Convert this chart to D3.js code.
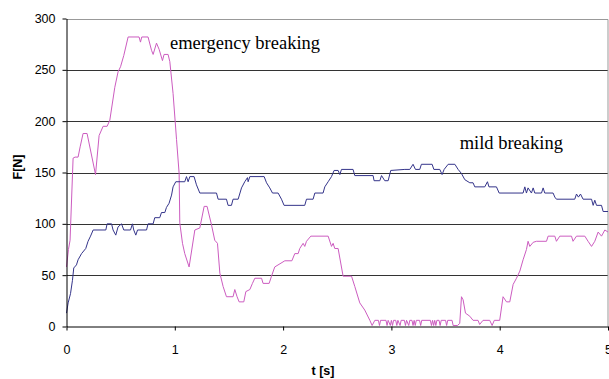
<!DOCTYPE html>
<html>
<head>
<meta charset="utf-8">
<script src="https://cdn.jsdelivr.net/npm/d3@7"></script>
<style>
  body { margin: 0; background: #fff; }
  svg { display: block; }
</style>
</head>
<body>
<svg></svg>
<script>
let xTicks = [0, 1, 2, 3, 4, 5]
let yTicks = [0, 50, 100, 150, 200, 250, 300]
let xLabel = 't [s]'
let yLabel = 'F[N]'

// emergency breaking, [t, F]
let emergency = [
  [0.00, 58], [0.018, 75], [0.033, 84], [0.061, 164], [0.079, 165], [0.107, 165],
  [0.126, 175], [0.153, 188], [0.190, 188], [0.268, 148], [0.301, 186], [0.338, 195],
  [0.375, 195], [0.400, 201], [0.446, 233], [0.476, 248], [0.499, 253], [0.529, 264],
  [0.569, 282], [0.670, 282], [0.683, 277], [0.695, 282], [0.753, 282], [0.785, 269],
  [0.800, 265], [0.831, 276], [0.855, 270], [0.886, 259], [0.901, 265], [0.938, 265],
  [0.954, 258], [0.984, 227], [1.016, 182], [1.040, 149], [1.046, 101], [1.071, 81],
  [1.092, 71], [1.132, 58], [1.185, 94], [1.231, 96], [1.271, 117], [1.298, 117],
  [1.339, 99], [1.369, 84], [1.394, 81], [1.416, 52], [1.446, 39], [1.477, 29],
  [1.538, 29], [1.554, 36], [1.575, 29], [1.594, 24], [1.637, 24], [1.656, 34],
  [1.693, 36], [1.717, 42], [1.739, 47], [1.801, 47], [1.815, 42], [1.871, 42],
  [1.893, 49], [1.923, 58], [2.016, 64], [2.081, 64], [2.108, 71], [2.139, 71],
  [2.154, 76], [2.185, 81], [2.200, 78], [2.216, 83], [2.256, 88], [2.416, 88],
  [2.447, 78], [2.462, 81], [2.477, 76], [2.508, 76], [2.554, 49], [2.632, 49],
  [2.662, 39], [2.708, 23], [2.754, 16], [2.801, 6], [2.822, 1], [2.847, 6],
  [2.88, 6], [2.89, 1], [2.90, 6], [2.95, 6], [2.96, 1], [2.97, 6], [2.99, 1],
  [3.00, 6], [3.01, 1], [3.02, 6], [3.04, 6], [3.05, 1], [3.06, 6], [3.08, 1],
  [3.09, 6], [3.12, 6], [3.13, 1], [3.14, 6], [3.16, 1], [3.17, 6], [3.19, 6],
  [3.20, 1], [3.21, 6], [3.22, 1], [3.23, 6], [3.26, 6], [3.27, 1], [3.28, 6],
  [3.36, 6], [3.37, 1], [3.38, 6], [3.39, 1], [3.40, 6], [3.41, 1], [3.42, 6],
  [3.44, 6], [3.45, 1], [3.46, 6], [3.50, 6], [3.51, 1], [3.52, 6], [3.56, 6],
  [3.57, 1], [3.61, 1], [3.631, 3], [3.647, 29], [3.662, 26], [3.684, 13],
  [3.724, 10], [3.754, 6], [3.80, 6], [3.815, 2], [3.846, 6], [3.908, 6],
  [3.93, 1], [3.95, 6], [4.00, 6], [4.031, 29], [4.063, 24], [4.093, 24],
  [4.124, 41], [4.155, 47], [4.186, 54], [4.216, 65], [4.247, 75], [4.262, 83],
  [4.278, 78], [4.309, 82], [4.34, 83], [4.432, 83], [4.447, 88], [4.509, 88],
  [4.524, 83], [4.555, 88], [4.663, 88], [4.677, 83], [4.709, 88], [4.786, 88],
  [4.816, 83], [4.848, 78], [4.878, 83], [4.909, 92], [4.940, 88], [4.971, 94],
  [5.00, 92]
]

// mild breaking, [t, F]
let mild = [
  [0.000, 13], [0.015, 23], [0.037, 32], [0.055, 45], [0.067, 57], [0.092, 60],
  [0.107, 65], [0.139, 71], [0.178, 76], [0.199, 83], [0.222, 88], [0.246, 94],
  [0.363, 94], [0.375, 100], [0.416, 100], [0.430, 94], [0.455, 89], [0.476, 97],
  [0.508, 100], [0.529, 94], [0.591, 94], [0.609, 100], [0.621, 94], [0.640, 89],
  [0.656, 94], [0.739, 94], [0.753, 100], [0.800, 100], [0.815, 106], [0.861, 106],
  [0.877, 111], [0.908, 111], [0.923, 116], [0.947, 120], [0.970, 128], [0.984, 136],
  [1.009, 141], [1.092, 141], [1.108, 146], [1.123, 141], [1.139, 146], [1.178, 146],
  [1.200, 138], [1.231, 130], [1.385, 130], [1.400, 124], [1.477, 124], [1.492, 118],
  [1.523, 118], [1.538, 124], [1.585, 124], [1.616, 135], [1.646, 141], [1.671, 145],
  [1.677, 141], [1.693, 146], [1.825, 146], [1.847, 140], [1.877, 135], [1.902, 130],
  [1.954, 130], [1.985, 124], [2.009, 118], [2.200, 118], [2.216, 124], [2.277, 124],
  [2.293, 130], [2.369, 130], [2.385, 136], [2.416, 141], [2.447, 146], [2.471, 152],
  [2.508, 152], [2.524, 148], [2.539, 153], [2.646, 153], [2.662, 147], [2.831, 147],
  [2.840, 142], [2.893, 142], [2.909, 147], [2.939, 142], [2.970, 142], [2.994, 152],
  [3.124, 153], [3.170, 153], [3.200, 158], [3.222, 153], [3.262, 153], [3.277, 158],
  [3.376, 158], [3.392, 153], [3.447, 153], [3.468, 148], [3.487, 153], [3.524, 158],
  [3.586, 158], [3.616, 153], [3.647, 149], [3.678, 143], [3.724, 140], [3.754, 140],
  [3.770, 136], [3.862, 136], [3.887, 141], [3.901, 136], [3.970, 136], [3.995, 130],
  [4.216, 130], [4.232, 136], [4.247, 130], [4.262, 135], [4.293, 130], [4.309, 135],
  [4.324, 130], [4.386, 130], [4.401, 135], [4.416, 130], [4.493, 130], [4.509, 126],
  [4.524, 124], [4.693, 124], [4.709, 129], [4.727, 126], [4.746, 129], [4.770, 124],
  [4.848, 124], [4.863, 118], [4.878, 123], [4.894, 118], [4.940, 118], [4.955, 112],
  [5.000, 112]
]

let annotations = [
  {text: 'emergency breaking', t: 0.955, F: 270},
  {text: 'mild breaking', t: 3.63, F: 172.5}
]

let width = 609
let height = 379
let plotLeft = 66.5
let plotRight = 608
let plotTop = 18.5
let plotBottom = 326.5

let svg = d3.select('svg')
  .attr('width', width)
  .attr('height', height)

let xScale = d3.scaleLinear().domain([0, 5]).range([plotLeft, plotRight])
let yScale = d3.scaleLinear().domain([0, 300]).range([plotBottom, plotTop])

// grid lines
svg.append('g')
  .selectAll('line')
  .data(yTicks.filter(d => d > 0 && d < 300))
  .enter()
  .append('line')
  .attr('x1', plotLeft)
  .attr('x2', plotRight)
  .attr('y1', d => Math.round(yScale(d)) + 0.5)
  .attr('y2', d => Math.round(yScale(d)) + 0.5)
  .attr('stroke', '#333')
  .attr('stroke-width', 1)

// plot frame top and right
svg.append('path')
  .attr('d', `M${plotLeft},${Math.round(plotTop) + 0.5}H${plotRight}V${plotBottom}`)
  .attr('fill', 'none')
  .attr('stroke', '#999')
  .attr('stroke-width', 1)

let line = d3.line()
  .x(d => xScale(d[0]))
  .y(d => yScale(d[1]))

svg.append('path')
  .datum(emergency)
  .attr('d', line)
  .attr('fill', 'none')
  .attr('stroke', '#cc5cc0')
  .attr('stroke-width', 1)

svg.append('path')
  .datum(mild)
  .attr('d', line)
  .attr('fill', 'none')
  .attr('stroke', '#34348a')
  .attr('stroke-width', 1)

// axes
let xAxis = d3.axisBottom(xScale).tickValues(xTicks).tickFormat(d3.format('d')).tickSize(4).tickSizeOuter(0)
svg.append('g')
  .attr('transform', 'translate(0,' + plotBottom + ')')
  .call(xAxis)
  .call(g => g.selectAll('text').attr('dy', '0').attr('y', 27))

let yAxis = d3.axisLeft(yScale).tickValues(yTicks).tickSize(4).tickSizeOuter(0)
svg.append('g')
  .attr('transform', 'translate(' + plotLeft + ',0)')
  .call(yAxis)
  .call(g => g.selectAll('text').attr('x', -11))

svg.selectAll('.tick text')
  .attr('font-family', 'Liberation Sans, Arial, sans-serif')
  .attr('font-size', 12.5)
  .attr('fill', '#000')
svg.selectAll('.domain, .tick line').attr('stroke', '#000')

svg.append('text')
  .attr('x', 323)
  .attr('y', 375)
  .attr('text-anchor', 'middle')
  .attr('font-family', 'Liberation Sans, Arial, sans-serif')
  .attr('font-weight', 'bold')
  .attr('font-size', 12.5)
  .text(xLabel)

svg.append('text')
  .attr('transform', 'translate(22,167) rotate(-90)')
  .attr('text-anchor', 'middle')
  .attr('font-family', 'Liberation Sans, Arial, sans-serif')
  .attr('font-weight', 'bold')
  .attr('font-size', 12.5)
  .text(yLabel)

svg.selectAll('.note')
  .data(annotations)
  .enter()
  .append('text')
  .attr('class', 'note')
  .attr('x', d => xScale(d.t))
  .attr('y', d => yScale(d.F))
  .attr('font-family', 'Liberation Serif, Times New Roman, serif')
  .attr('font-size', 18.5)
  .attr('fill', '#000')
  .text(d => d.text)
</script>
</body>
</html>
